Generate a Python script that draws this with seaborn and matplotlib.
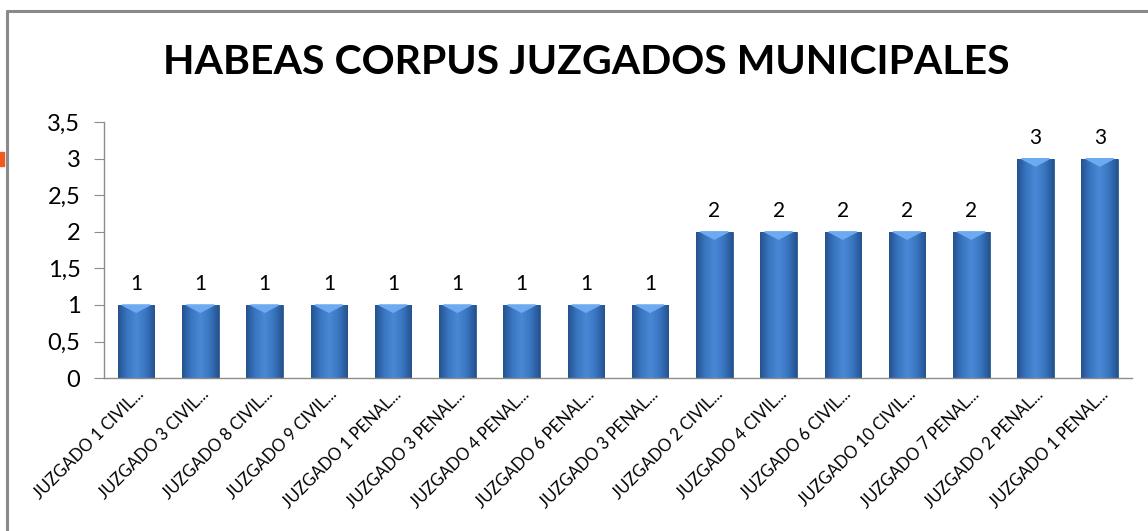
import numpy as np
import matplotlib
matplotlib.use("Agg")
import matplotlib.pyplot as plt
import seaborn as sns
from matplotlib.colors import LinearSegmentedColormap

juzgados = [
    "JUZGADO 1 CIVIL...", "JUZGADO 3 CIVIL...", "JUZGADO 8 CIVIL...",
    "JUZGADO 9 CIVIL...", "JUZGADO 1 PENAL...", "JUZGADO 3 PENAL...",
    "JUZGADO 4 PENAL...", "JUZGADO 6 PENAL...", "JUZGADO 3 PENAL...",
    "JUZGADO 2 CIVIL...", "JUZGADO 4 CIVIL...", "JUZGADO 6 CIVIL...",
    "JUZGADO 10 CIVIL...", "JUZGADO 7 PENAL...", "JUZGADO 2 PENAL...",
    "JUZGADO 1 PENAL...",
]
habeas = [1, 1, 1, 1, 1, 1, 1, 1, 1, 2, 2, 2, 2, 2, 3, 3]
y_ticks = [0, 0.5, 1, 1.5, 2, 2.5, 3, 3.5]

sns.set_style("white")
plt.rcParams["font.family"] = ["Lato", "DejaVu Sans"]
plt.rcParams["text.color"] = "black"
plt.rcParams["xtick.color"] = "black"
plt.rcParams["ytick.color"] = "black"

fig = plt.figure(figsize=(11.48, 5.31), dpi=100)
ax = fig.add_axes([0.0906, 0.288, 0.8954, 0.482])

pos = np.arange(len(habeas))
sns.barplot(x=pos, y=habeas, color="#3c78c4", width=0.57, ax=ax,
            edgecolor="#2b5a96", linewidth=0.6, native_scale=True)

# shaded look for each bar
cmap = LinearSegmentedColormap.from_list(
    "bar", ["#25538f", "#3a76c2", "#4a88d6", "#3a76c2", "#25538f"])
grad = np.linspace(0, 1, 64).reshape(1, -1)
for p in ax.patches:
    x0, w, h = p.get_x(), p.get_width(), p.get_height()
    im = ax.imshow(grad, cmap=cmap, aspect="auto",
                   extent=[x0, x0 + w, 0, h], zorder=p.get_zorder() + 0.1)
    im.set_clip_path(p)
    tri = plt.Polygon([[x0 + w * 0.12, h], [x0 + w * 0.88, h],
                       [x0 + w * 0.5, h - 0.1]],
                      closed=True, color="#6cabf0", zorder=p.get_zorder() + 0.2)
    ax.add_patch(tri)

for i, v in enumerate(habeas):
    ax.annotate(str(v), (pos[i], v), xytext=(0, 8), textcoords="offset points",
                ha="center", va="bottom", fontsize=15)

ax.set_xlim(-0.5, len(habeas) - 0.5)
ax.set_ylim(0, 3.5)
ax.set_yticks(y_ticks)
ax.set_yticklabels([f"{t:g}".replace(".", ",") for t in y_ticks], fontsize=17)

ax.set_xticks(pos)
ax.set_xticklabels(juzgados, rotation=45, ha="right", rotation_mode="anchor",
                   fontsize=12)
ax.set_xticks(np.arange(-0.5, len(habeas)), minor=True)
ax.tick_params(axis="x", which="major", length=0, pad=6)
ax.tick_params(axis="x", which="minor", length=6, color="#8c8c8c", direction="out")
ax.tick_params(axis="y", length=7, color="#8c8c8c", direction="out", left=True, pad=10)

for s in ["top", "right"]:
    ax.spines[s].set_visible(False)
for s in ["left", "bottom"]:
    ax.spines[s].set_color("#8c8c8c")
    ax.spines[s].set_linewidth(1.0)

fig.text(0.511, 0.883, "HABEAS CORPUS JUZGADOS MUNICIPALES", ha="center",
         va="center", fontsize=29.5, fontweight="bold")

# chart frame
fig.add_artist(plt.Line2D([7 / 1148, 7 / 1148], [0, 1 - 11 / 531],
                          color="#8a8a8a", lw=2.2, transform=fig.transFigure))
fig.add_artist(plt.Line2D([7 / 1148, 1], [1 - 11 / 531, 1 - 11 / 531],
                          color="#8a8a8a", lw=2.2, transform=fig.transFigure))
fig.add_artist(plt.Rectangle((0, 1 - 166 / 531), 4 / 1148, 14 / 531,
                             color="#f05a1e", transform=fig.transFigure))

fig.savefig("out.png", dpi=100)
